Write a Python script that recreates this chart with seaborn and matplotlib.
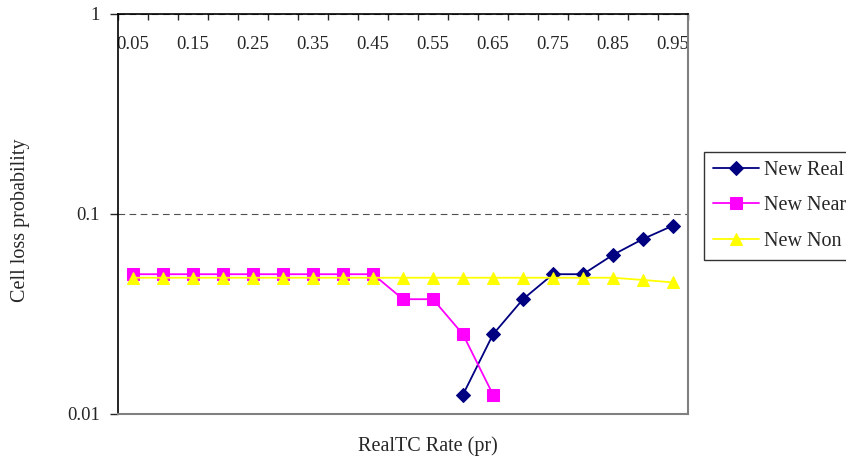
import numpy as np
import pandas as pd
import matplotlib
matplotlib.use("Agg")
import matplotlib.pyplot as plt
import seaborn as sns

rates = ["0.05", "0.1", "0.15", "0.2", "0.25", "0.3", "0.35", "0.4", "0.45", "0.5",
         "0.55", "0.6", "0.65", "0.7", "0.75", "0.8", "0.85", "0.9", "0.95"]
new_real = [np.nan] * 11 + [0.0125, 0.025, 0.0375, 0.05, 0.05, 0.0625, 0.075, 0.0875]
new_near = [0.05] * 9 + [0.0375, 0.0375, 0.025, 0.0125] + [np.nan] * 6
new_non = [0.048] * 17 + [0.0468, 0.0455]

series = ["New Real", "New Near", "New Non"]
colors = ["#000080", "#FF00FF", "#FFFF00"]
markers = ["D", "s", "^"]

sns.set_style("white")
plt.rcParams["font.family"] = ["Liberation Serif", "DejaVu Serif"]

df = pd.DataFrame({"pos": np.arange(len(rates)), "New Real": new_real,
                   "New Near": new_near, "New Non": new_non})

fig = plt.figure(figsize=(8.46, 4.57), dpi=100)
ax = fig.add_axes([118 / 846, 1 - 414 / 457, 570 / 846, 400 / 457])

for name, c, m in zip(series, colors, markers):
    ms = 7 if m == "D" else 8
    sns.lineplot(data=df, x="pos", y=name, ax=ax, color=c, marker=m, markersize=ms,
                 markeredgecolor=c, linewidth=1.3, label=name, zorder=3)

ax.set_yscale("log")
ax.set_ylim(0.01, 1)
ax.set_xlim(-0.5, len(rates) - 0.5)
ax.set_yticks([0.01, 0.1, 1])
ax.set_yticklabels(["0.01", "0.1", "1"])
ax.yaxis.set_minor_locator(matplotlib.ticker.NullLocator())
ax.tick_params(axis="y", direction="out", length=6, width=1, labelsize=13.5, pad=7, left=True)

# category labels sit just under the top axis line
ax.set_xticks(np.arange(0, len(rates), 2))
ax.set_xticklabels(rates[::2])
ax.set_xticks(np.arange(-0.5, len(rates), 1), minor=True)
ax.tick_params(axis="x", which="major", top=True, bottom=False, labeltop=True,
               labelbottom=False, length=0, labelsize=13.5, pad=-28)
ax.tick_params(axis="x", which="minor", top=True, bottom=False, direction="in",
               length=4, width=1)

ax.set_xlabel("")
ax.set_ylabel("")
ax.yaxis.grid(True, which="major", color="#505050", linestyle=(0, (6, 4)), linewidth=0.8)
ax.xaxis.grid(False)

for s in ["left", "top"]:
    ax.spines[s].set_color("black")
    ax.spines[s].set_linewidth(1.2)
for s in ["right", "bottom"]:
    ax.spines[s].set_color("#808080")
    ax.spines[s].set_linewidth(1.5)
    ax.spines[s].set_visible(True)

fig.text(428 / 846, 1 - 446 / 457, "RealTC Rate (pr)", ha="center", va="center", fontsize=14.5)
fig.text(20 / 846, 1 - 220 / 457, "Cell loss probability", ha="center", va="center",
         rotation=90, fontsize=14.5)

# legend runs past the right edge, as in the original
leg = ax.legend(loc="upper left", bbox_to_anchor=(704 / 846, 1 - 152 / 457),
                bbox_transform=fig.transFigure, fontsize=14.5, frameon=True,
                fancybox=False, edgecolor="black", handlelength=2.3,
                labelspacing=0.8, borderpad=0.45, handletextpad=0.25,
                borderaxespad=0)
leg.get_frame().set_linewidth(1.0)

fig.savefig("out.png", dpi=100)
